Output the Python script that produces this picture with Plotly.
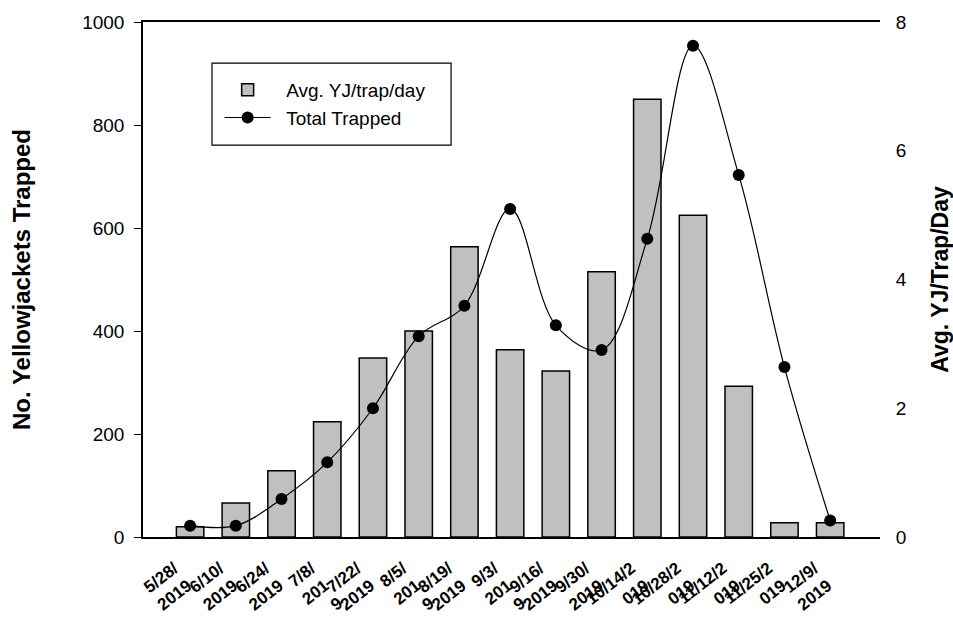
import plotly.graph_objects as go

# ---- data ----
dates = ["5/28/2019", "6/10/2019", "6/24/2019", "7/8/2019", "7/22/2019",
         "8/5/2019", "8/19/2019", "9/3/2019", "9/16/2019", "9/30/2019",
         "10/14/2019", "10/28/2019", "11/12/2019", "11/25/2019", "12/9/2019"]
tick_labels = ["5/28/<br>2019", "6/10/<br>2019", "6/24/<br>2019", "7/8/<br>201<br>9",
               "7/22/<br>2019", "8/5/<br>201<br>9", "8/19/<br>2019", "9/3/<br>201<br>9",
               "9/16/<br>2019", "9/30/<br>2019", "10/14/2<br>019", "10/28/2<br>019",
               "11/12/2<br>019", "11/25/2<br>019", "12/9/<br>2019"]
avg_per_trap_day = [0.16, 0.53, 1.03, 1.79, 2.78, 3.20, 4.51, 2.91, 2.58,
                    4.12, 6.80, 5.00, 2.34, 0.22, 0.22]
total_trapped = [22, 22, 74, 145, 250, 390, 449, 637, 411, 363, 579, 954, 703, 330, 32]

FONT = "Arial, Liberation Sans, sans-serif"
NB = "\u00a0\u00a0"

fig = go.Figure()
fig.add_trace(go.Bar(
    x=tick_labels, y=avg_per_trap_day, name=NB + "Avg. YJ/trap/day", yaxis="y",
    width=0.6, marker=dict(color="#c0c0c0", line=dict(color="black", width=1.5)),
))
fig.add_trace(go.Scatter(
    x=tick_labels, y=total_trapped, name=NB + "Total Trapped", yaxis="y2",
    mode="lines+markers", line=dict(color="black", width=1.2, shape="spline", smoothing=1.0),
    marker=dict(color="black", size=12),
))

fig.update_layout(
    width=953, height=628,
    margin=dict(l=143, r=73, t=22, b=91, autoexpand=False),
    plot_bgcolor="white", paper_bgcolor="white",
    font=dict(family=FONT, color="black", size=19),
    showlegend=True,
    legend=dict(x=0.104, y=0.905, xanchor="left", yanchor="top",
                bgcolor="rgba(0,0,0,0)", borderwidth=0, itemwidth=46,
                font=dict(size=19), tracegroupgap=0),
    xaxis=dict(type="category", range=[-1.03, 15.09], showline=True, mirror=True,
               linecolor="black", linewidth=1.8, ticks="", showgrid=False,
               tickangle=-38, tickfont=dict(size=17, family=FONT, weight="bold"),
               ticklabelstandoff=13, ticklabelshift=-16),
    yaxis=dict(side="right", range=[0, 8], dtick=2, showline=False, showgrid=False,
               zeroline=False, ticks="outside", ticklen=8, tickcolor="rgba(0,0,0,0)",
               tickfont=dict(size=19), ticklabelstandoff=3,
               title=dict(text="<b>Avg. YJ/Trap/Day</b>", font=dict(size=23), standoff=26)),
    yaxis2=dict(overlaying="y", side="left", range=[0, 1000], dtick=200,
                showline=True, linecolor="black", linewidth=1.5, showgrid=False,
                zeroline=False, ticks="outside", ticklen=7, tickwidth=1.2, tickcolor="black",
                tickfont=dict(size=19), ticklabelstandoff=6,
                title=dict(text="<b>No. Yellowjackets Trapped</b>", font=dict(size=24), standoff=45)),
    shapes=[dict(type="rect", xref="paper", yref="paper",
                 x0=0.0936, x1=0.418, y0=0.761, y1=0.920,
                 line=dict(color="black", width=1.2), fillcolor="rgba(0,0,0,0)")],
)

fig.write_html("out.html")
